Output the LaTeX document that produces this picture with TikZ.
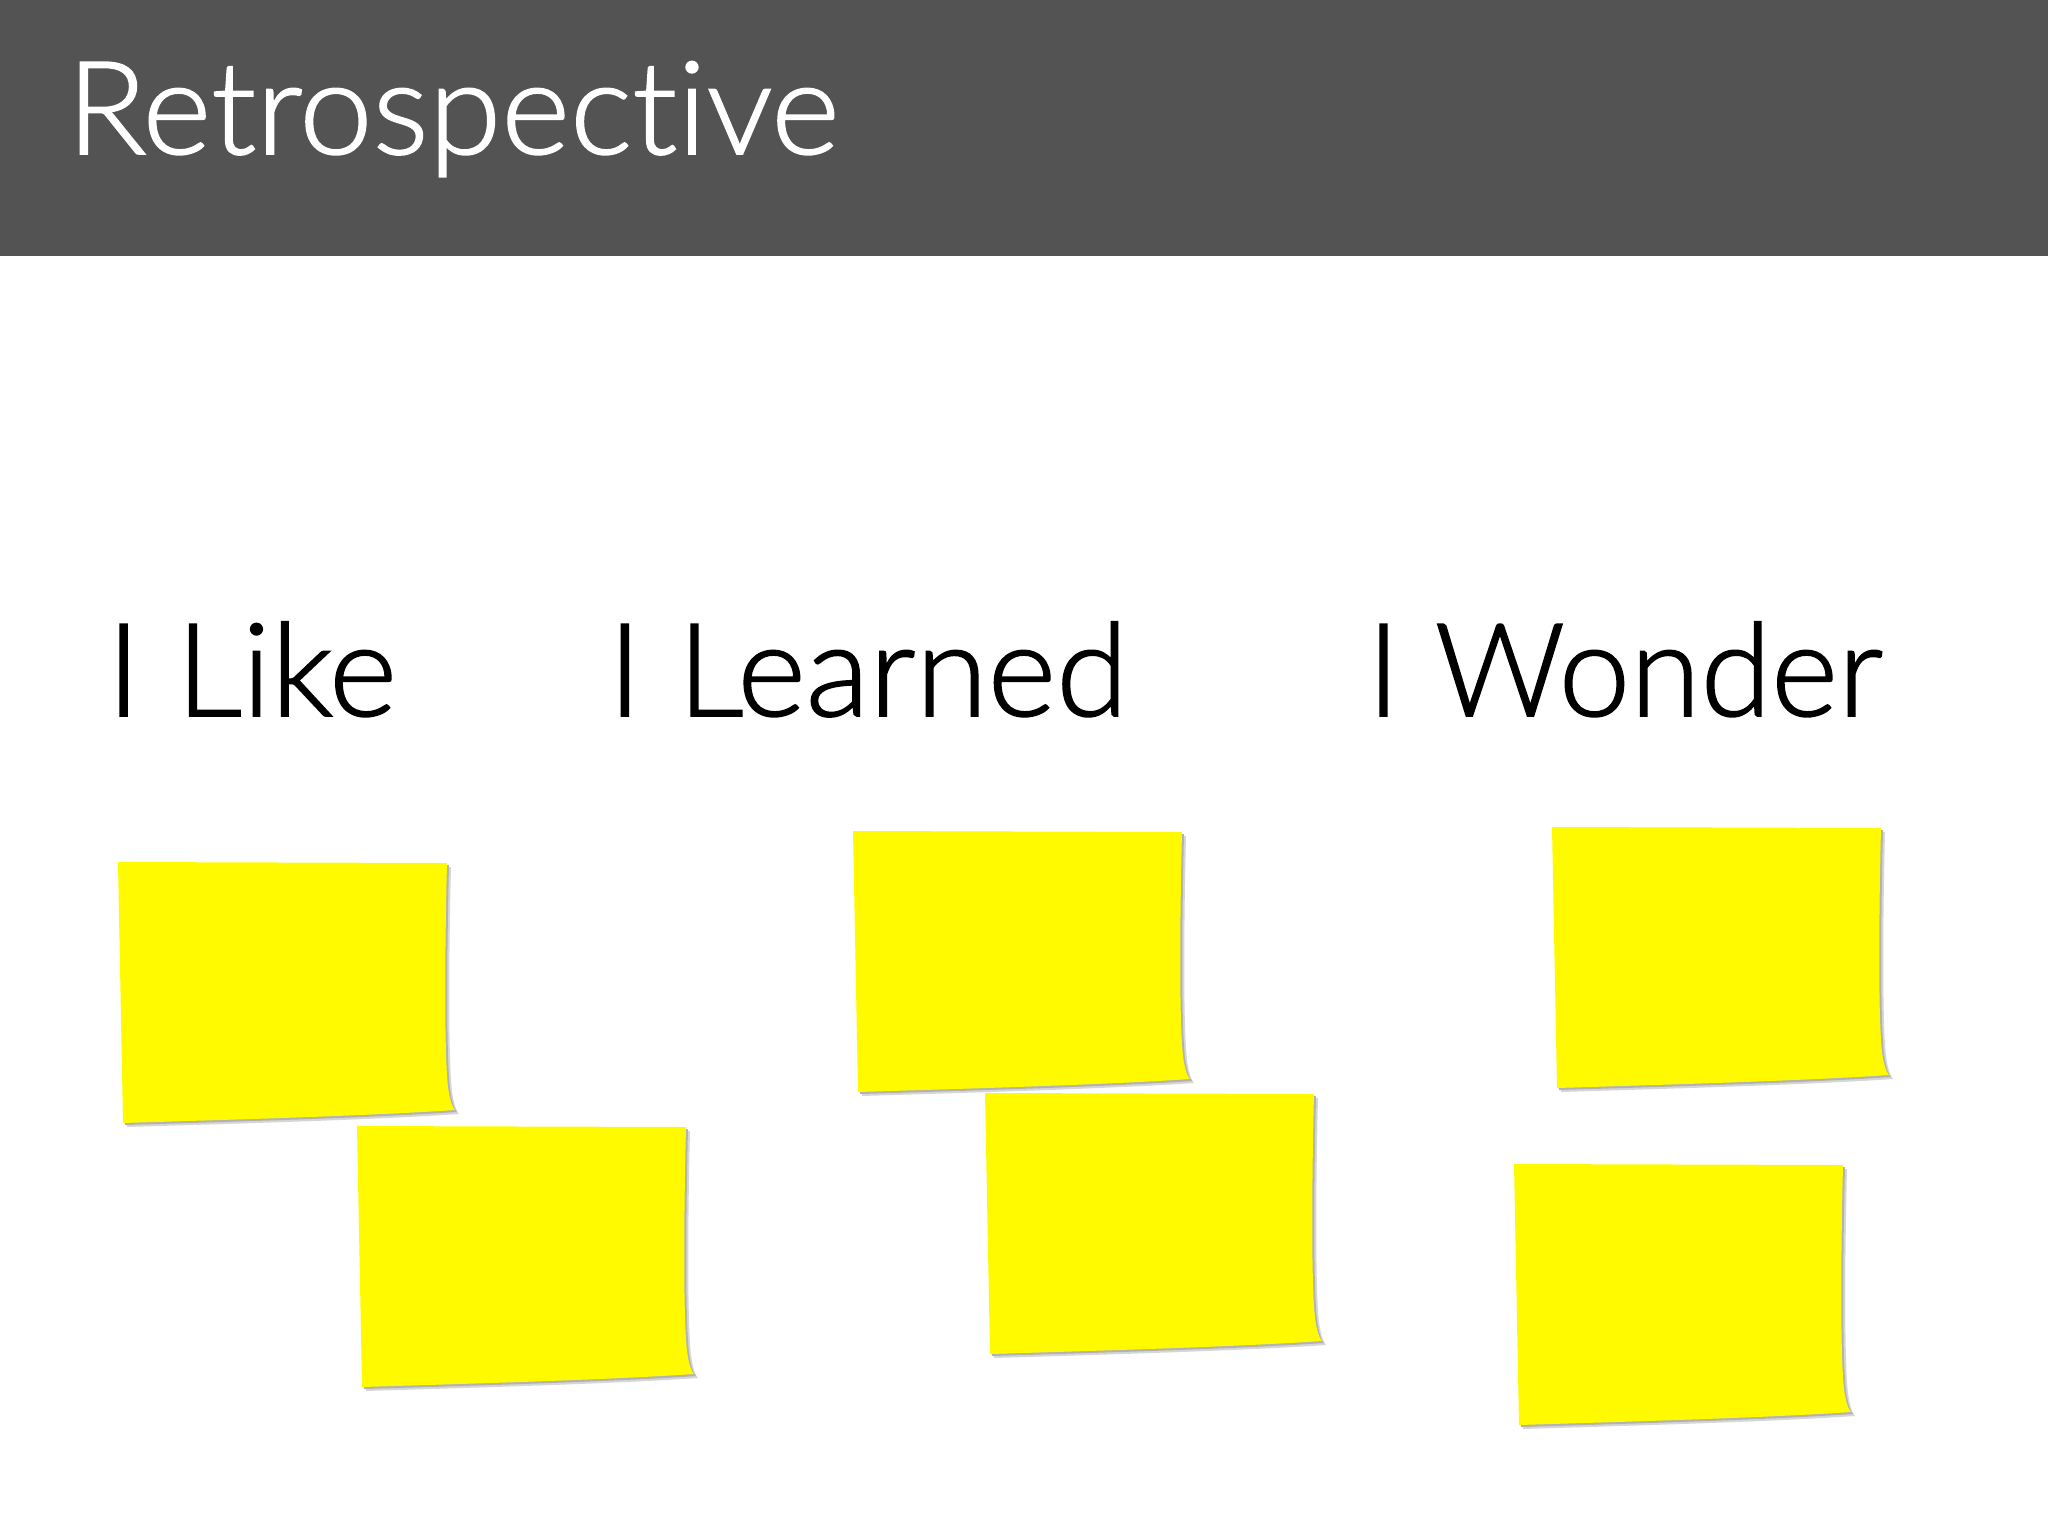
\documentclass[tikz,border=0pt]{standalone}
\usepackage{fontspec}
\IfFontExistsTF{Lato Light}{\setmainfont{Lato Light}[Ligatures=NoCommon,FakeBold=1.3]}{\setmainfont{Lato}[Ligatures=NoCommon]}
\usepackage{graphicx}
\definecolor{barg}{RGB}{83,83,83}
\definecolor{notey}{RGB}{255,250,0}
\definecolor{shad}{RGB}{165,165,165}
\newcommand\fitto[2]{\sbox0{#2}\pgfmathsetmacro\fitr{#1*0.2845276/\the\wd0}\scalebox{\fitr}[1]{\usebox0}}
\tikzset{
  big/.style={font=\fontsize{36.9}{44}\selectfont, inner sep=0pt, anchor=base west},
  notepath/.pic={
    \fill[shad!45, shift={(4,4)}] (0,0) -- (329,1) .. controls (327,80) and (326,190) .. (330,225)
      .. controls (332,240) and (335,246) .. (337,248)
      .. controls (250,254) and (100,258) .. (5,261) -- cycle;
    \fill[shad!85, shift={(2,2)}] (0,0) -- (329,1) .. controls (327,80) and (326,190) .. (330,225)
      .. controls (332,240) and (335,246) .. (337,248)
      .. controls (250,254) and (100,258) .. (5,261) -- cycle;
    \fill[notey] (0,0) -- (329,1) .. controls (327,80) and (326,190) .. (330,225)
      .. controls (332,240) and (335,246) .. (337,248)
      .. controls (250,254) and (100,258) .. (5,261) -- cycle;
  }
}
\begin{document}
\begin{tikzpicture}[x=0.01cm,y=-0.01cm]
\useasboundingbox (0,0) rectangle (2048,1536);
\fill[white] (0,0) rectangle (2048,1536);
\fill[barg] (0,0) rectangle (2048,256);
\node[big, text=white] (title) at (66,154) {\fitto{772}{Retrospec\kern0pt t\kern0pt ive}};
\node[big] (like) at (106,716) {\fitto{290}{I Like}};
\node[big] (learned) at (607,716) {\fitto{520}{I Learned}};
\node[big] (wonder) at (1366,716) {\fitto{516}{I Wonder}};
\pic (n1) at (118,862) {notepath};
\pic (n2) at (357,1126) {notepath};
\pic (n3) at (853,831) {notepath};
\pic (n4) at (985,1093) {notepath};
\pic (n5) at (1552,827) {notepath};
\pic (n6) at (1514,1164) {notepath};
\end{tikzpicture}
\end{document}
